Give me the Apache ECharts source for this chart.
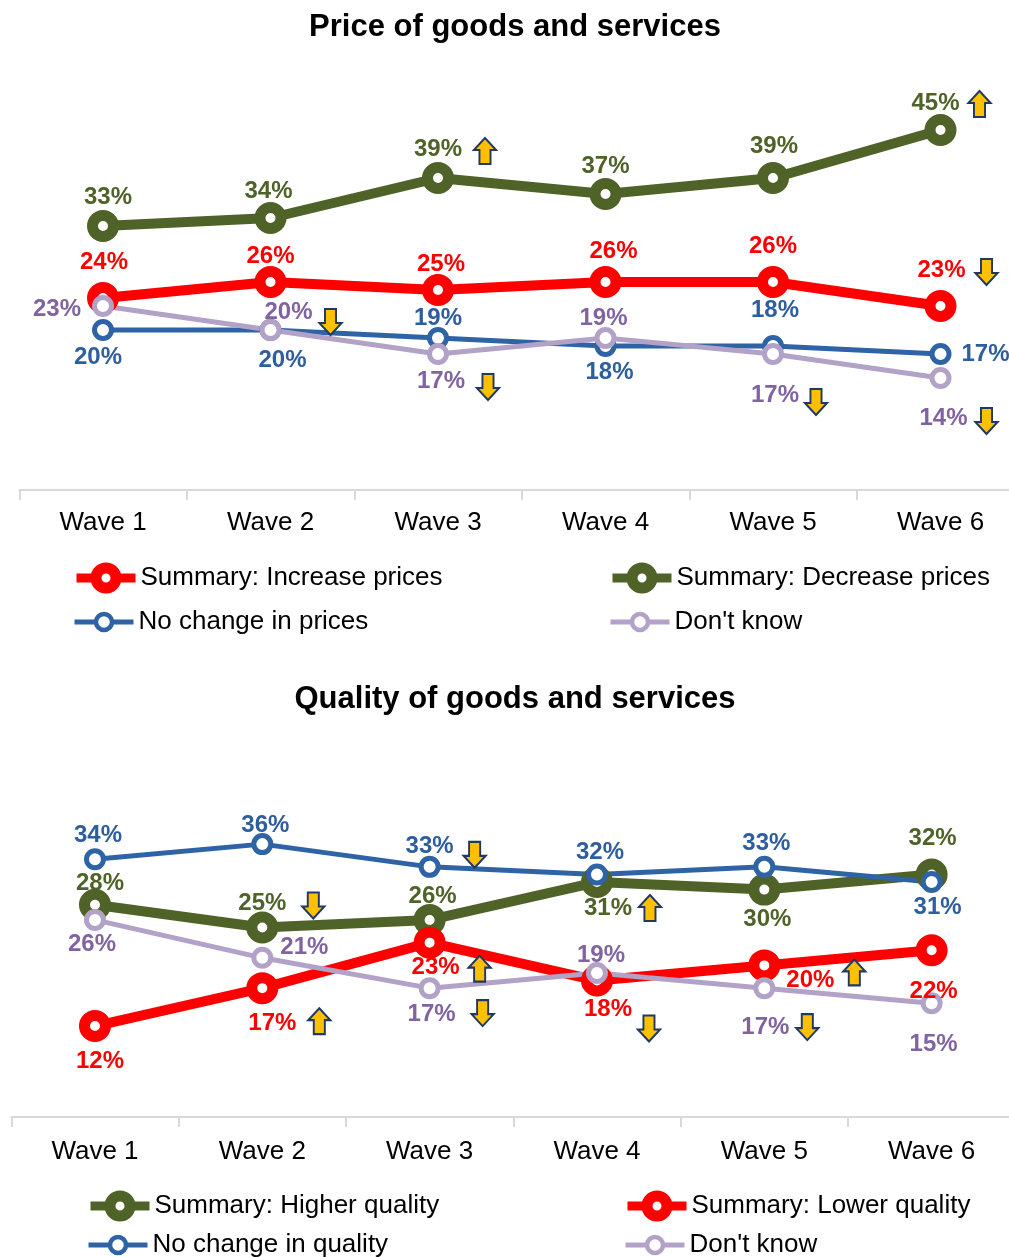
<!DOCTYPE html>
<html>
<head>
<meta charset="utf-8">
<title>Price and quality of goods and services</title>
<script src="https://cdn.jsdelivr.net/npm/echarts@6/dist/echarts.min.js"></script>
<style>
  html, body { margin: 0; padding: 0; background: #ffffff; overflow: hidden; }
  #main { width: 1030px; height: 1257px; }
</style>
</head>
<body>
<div id="main"></div>
<script>
// ---- Data ----
const waves = ['Wave 1', 'Wave 2', 'Wave 3', 'Wave 4', 'Wave 5', 'Wave 6'];

// Price of goods and services (%)
const priceIncrease = [24, 26, 25, 26, 26, 23];
const priceDecrease = [33, 34, 39, 37, 39, 45];
const priceNoChange = [20, 20, 19, 18, 18, 17];
const priceDontKnow = [23, 20, 17, 19, 17, 14];

// Quality of goods and services (%)
const qualityHigher   = [28, 25, 26, 31, 30, 32];
const qualityLower    = [12, 17, 23, 18, 20, 22];
const qualityNoChange = [34, 36, 33, 32, 33, 31];
const qualityDontKnow = [26, 21, 17, 19, 17, 15];

// Significant change since the previous wave: 1 = up, -1 = down, 0 = none
const priceIncreaseShift   = [0, 0, 0, 0, 0, -1];
const priceDecreaseShift   = [0, 0, 1, 0, 0, 1];
const priceNoChangeShift   = [0, 0, 0, 0, 0, 0];
const priceDontKnowShift   = [0, -1, -1, 0, -1, -1];
const qualityHigherShift   = [0, -1, 0, 1, 0, 0];
const qualityLowerShift    = [0, 1, 1, -1, 1, 0];
const qualityNoChangeShift = [0, 0, -1, 0, 0, 0];
const qualityDontKnowShift = [0, 0, -1, 0, -1, 0];

// ---- Styling / layout ----
const FONT = "'Liberation Sans', Arial, sans-serif";
const GREEN = '#4F6228', RED = '#FF0000', BLUE = '#2E63A6', LILAC = '#B3A2C7';
const UP_ARROW = 'path://M12,0 L24,12 L18,12 L18,26 L6,26 L6,12 L0,12 Z';
const DOWN_ARROW = 'path://M6,0 L18,0 L18,14 L24,14 L12,26 L0,14 L6,14 Z';

const heavy = { symbolSize: 21, border: 11, width: 10, legendHeight: 25, legendBorder: 11, legendLine: 9 };
const light = { symbolSize: 17, border: 5, width: 5, legendHeight: 20, legendBorder: 4.5, legendLine: 5 };

// label offsets (px from the point) and arrow offsets per wave
const placement = {
  priceIncrease: { labels: [[1,-36],[0,-26],[3,-26],[8,-31],[0,-36],[1,-36]],
                   arrows: {5: [46,-34]} },
  priceDecrease: { labels: [[5,-29],[-2,-27],[0,-29],[0,-28],[1,-32],[-5,-27]],
                   arrows: {2: [47,-27], 5: [39,-26]} },
  priceNoChange: { labels: [[-5,27],[12,30],[0,-20],[4,26],[2,-36],[45,0]],
                   arrows: {} },
  priceDontKnow: { labels: [[-46,3],[18,-18],[3,27],[-2,-20],[2,41],[3,40]],
                   arrows: {1: [60,-8], 2: [50,33], 4: [43,48], 5: [46,43]} },
  qualityHigher: { labels: [[5,-21],[0,-24],[3,-24],[11,26],[3,30],[1,-36]],
                   arrows: {1: [51,-22], 3: [53,26]} },
  qualityLower:  { labels: [[5,35],[10,35],[6,25],[11,29],[46,15],[2,41]],
                   arrows: {1: [57,33], 2: [50,26], 3: [52,48], 4: [90,7]} },
  qualityNoChange: { labels: [[3,-24],[3,-19],[0,-20],[3,-22],[2,-23],[6,25]],
                   arrows: {2: [45,-12]} },
  qualityDontKnow: { labels: [[-3,24],[42,-10],[2,26],[4,-18],[1,39],[2,41]],
                   arrows: {2: [53,25], 4: [43,39]} }
};

function lineSeries(name, values, shifts, color, labelColor, weight, place, axis) {
  const marks = [];
  shifts.forEach((s, i) => {
    if (!s) return;
    marks.push({
      coord: [waves[i], values[i]],
      symbol: s > 0 ? UP_ARROW : DOWN_ARROW,
      symbolOffset: place.arrows[i] || [45, 0]
    });
  });
  return {
    name: name,
    type: 'line',
    xAxisIndex: axis,
    yAxisIndex: axis,
    data: values.map((v, i) => ({ value: v, label: { offset: place.labels[i] } })),
    symbol: 'circle',
    symbolSize: weight.symbolSize,
    showAllSymbol: true,
    clip: false,
    lineStyle: { color: color, width: weight.width },
    itemStyle: { color: '#ffffff', borderColor: color, borderWidth: weight.border },
    label: {
      show: true, position: 'inside', formatter: '{c}%',
      color: labelColor, fontSize: 24, fontWeight: 'bold', fontFamily: FONT,
      align: 'center', verticalAlign: 'middle'
    },
    emphasis: { disabled: true },
    markPoint: {
      silent: true,
      symbolSize: [24, 26],
      symbolKeepAspect: true,
      itemStyle: { color: '#FFC000', borderColor: '#1F3864', borderWidth: 2 },
      label: { show: false },
      data: marks
    }
  };
}

function categoryAxis(grid, margin) {
  return {
    type: 'category', gridIndex: grid, data: waves, boundaryGap: true,
    axisLine: { show: true, lineStyle: { color: '#D9D9D9', width: 2 } },
    axisTick: { show: true, length: 10, lineStyle: { color: '#D9D9D9', width: 2 } },
    axisLabel: { color: '#000000', fontSize: 26, fontFamily: FONT, margin: margin },
    splitLine: { show: false }
  };
}

function valueAxis(grid, max) {
  return { type: 'value', gridIndex: grid, min: 0, max: max, show: false, splitLine: { show: false } };
}

// one legend entry; centreY is the vertical middle of the entry
function legendAt(name, left, centreY, weight, shown) {
  return {
    data: [name], left: left, top: centreY - weight.legendHeight / 2, padding: 0,
    itemWidth: 59, itemHeight: weight.legendHeight, selectedMode: false,
    lineStyle: { width: weight.legendLine },
    itemStyle: { borderWidth: weight.legendBorder },
    textStyle: { color: '#000000', fontSize: 26, fontFamily: FONT },
    formatter: () => shown || name
  };
}

const DK_PRICE = "Don't know";
const DK_QUALITY = "Don't know (quality)";

const option = {
  animation: false,
  backgroundColor: '#ffffff',
  title: [
    { text: 'Price of goods and services', left: 'center', top: 7,
      textStyle: { fontSize: 31, fontWeight: 'bold', color: '#000000', fontFamily: FONT } },
    { text: 'Quality of goods and services', left: 'center', top: 679,
      textStyle: { fontSize: 31, fontWeight: 'bold', color: '#000000', fontFamily: FONT } }
  ],
  grid: [
    { left: 19.25, top: 90, width: 1005, height: 400 },
    { left: 11.3, top: 813.8, width: 1004, height: 303.2 }
  ],
  xAxis: [categoryAxis(0, 20), categoryAxis(1, 22)],
  yAxis: [valueAxis(0, 50), valueAxis(1, 40)],
  legend: [
    legendAt('Summary: Increase prices', 72, 575, heavy),
    legendAt('Summary: Decrease prices', 608, 575, heavy),
    legendAt('No change in prices', 72, 619, light),
    legendAt(DK_PRICE, 608, 619, light, "Don't know"),
    legendAt('Summary: Higher quality', 86, 1203, heavy),
    legendAt('Summary: Lower quality', 623, 1203, heavy),
    legendAt('No change in quality', 86, 1242, light),
    legendAt(DK_QUALITY, 623, 1242, light, "Don't know")
  ],
  series: [
    lineSeries('Summary: Decrease prices', priceDecrease, priceDecreaseShift, GREEN, GREEN, heavy, placement.priceDecrease, 0),
    lineSeries('Summary: Increase prices', priceIncrease, priceIncreaseShift, RED, RED, heavy, placement.priceIncrease, 0),
    lineSeries('No change in prices', priceNoChange, priceNoChangeShift, BLUE, '#2E5E9E', light, placement.priceNoChange, 0),
    lineSeries(DK_PRICE, priceDontKnow, priceDontKnowShift, LILAC, '#8064A2', light, placement.priceDontKnow, 0),

    lineSeries('Summary: Higher quality', qualityHigher, qualityHigherShift, GREEN, GREEN, heavy, placement.qualityHigher, 1),
    lineSeries('Summary: Lower quality', qualityLower, qualityLowerShift, RED, RED, heavy, placement.qualityLower, 1),
    lineSeries('No change in quality', qualityNoChange, qualityNoChangeShift, BLUE, '#2E5E9E', light, placement.qualityNoChange, 1),
    lineSeries(DK_QUALITY, qualityDontKnow, qualityDontKnowShift, LILAC, '#8064A2', light, placement.qualityDontKnow, 1)
  ]
};

const chart = echarts.init(document.getElementById('main'), null, { renderer: 'canvas' });
chart.setOption(option);
</script>
</body>
</html>
